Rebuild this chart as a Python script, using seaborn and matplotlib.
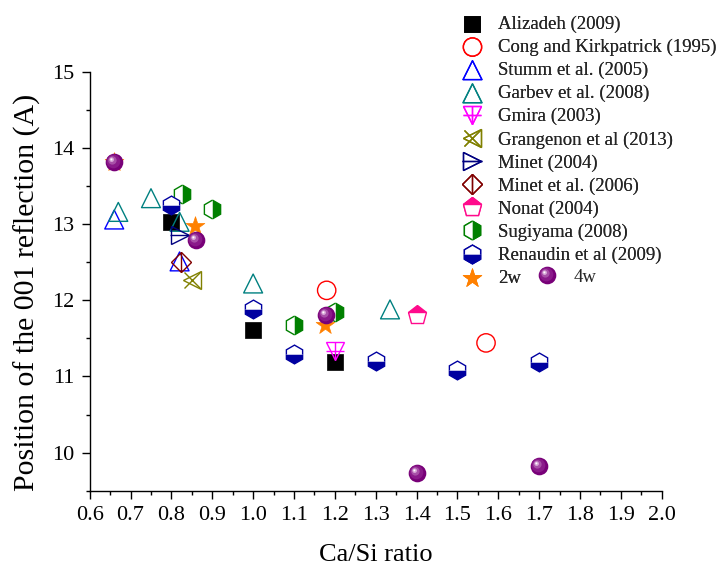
import numpy as np
import matplotlib
matplotlib.use("Agg")
import matplotlib.pyplot as plt
import seaborn as sns
from matplotlib.path import Path
from matplotlib.markers import MarkerStyle
from matplotlib.ticker import MultipleLocator, FormatStrFormatter
from matplotlib.legend_handler import HandlerTuple

sns.set_theme(style="ticks")
plt.rcParams["font.family"] = ["Liberation Serif", "DejaVu Serif"]

# ---- datos (Ca/Si, posicion 001 en A) ----
aliz_x = [0.80, 1.00, 1.20]
aliz_y = [13.03, 11.61, 11.19]
cong_x = [1.18, 1.57]
cong_y = [12.13, 11.44]
stumm_x = [0.66, 0.82]
stumm_y = [13.06, 12.51]
garbev_x = [0.67, 0.75, 0.82, 1.00, 1.335]
garbev_y = [13.16, 13.34, 13.03, 12.22, 11.88]
gmira_x = [1.20]
gmira_y = [11.34]
grang_x = [0.85]
grang_y = [12.26]
minet_x = [0.82]
minet_y = [12.85]
minet06_x = [0.823]
minet06_y = [12.50]
nonat_x = [1.40]
nonat_y = [11.80]
sugi_x = [0.825, 0.90, 1.10, 1.20]
sugi_y = [13.40, 13.20, 11.67, 11.85]
renau_x = [0.80, 1.00, 1.10, 1.30, 1.50, 1.70]
renau_y = [13.25, 11.88, 11.30, 11.20, 11.08, 11.19]
w2_x = [0.66, 0.858, 1.176]
w2_y = [13.82, 12.97, 11.67]
w4_x = [0.66, 0.859, 1.178, 1.40, 1.70]
w4_y = [13.82, 12.79, 11.81, 9.73, 9.82]

labels = ["Alizadeh (2009)", "Cong and Kirkpatrick (1995)", "Stumm et al. (2005)",
          "Garbev et al. (2008)", "Gmira (2003)", "Grangenon et al (2013)",
          "Minet (2004)", "Minet et al. (2006)", "Nonat (2004)", "Sugiyama (2008)",
          "Renaudin et al (2009)", "2w", "4w"]

fig = plt.figure(figsize=(7.17, 5.67), dpi=100)
ax = fig.add_axes([0.1251, 0.1346, 0.7978, 0.7389])

lw = 1.0
h = []

# Alizadeh - cuadrado negro
sns.scatterplot(x=aliz_x, y=aliz_y, marker="s", s=121, color="black",
                edgecolor="black", linewidth=0.5, ax=ax, zorder=3)
h.append(ax.collections[-1])

# Cong - circulo rojo vacio
sns.scatterplot(x=cong_x, y=cong_y, marker="o", s=174, color="red",
                facecolor="none", edgecolor="red", linewidth=lw, ax=ax, zorder=4)
h.append(ax.collections[-1])

# Stumm - triangulo azul
sns.scatterplot(x=stumm_x, y=stumm_y, marker="^", s=185, color="#0000ff",
                facecolor="none", edgecolor="#0000ff", linewidth=lw, ax=ax, zorder=5)
h.append(ax.collections[-1])

# Garbev - triangulo verde azulado
sns.scatterplot(x=garbev_x, y=garbev_y, marker="^", s=185, color="#008080",
                facecolor="none", edgecolor="#008080", linewidth=lw, ax=ax, zorder=6)
h.append(ax.collections[-1])

# Gmira - triangulo invertido con cruz
a, = ax.plot(gmira_x, gmira_y, ls="none", marker="v", ms=13.5, mfc="none",
             mec="#ff00ff", mew=lw, zorder=7)
b, = ax.plot(gmira_x, gmira_y, ls="none", marker="+", ms=13.5,
             mec="#ff00ff", mew=lw, zorder=7)
h.append((a, b))

# Grangenon - triangulo con x
a, = ax.plot(grang_x, grang_y, ls="none", marker="<", ms=13.5, mfc="none",
             mec="#808000", mew=lw, zorder=8)
b, = ax.plot(grang_x, grang_y, ls="none", marker="x", ms=11, mec="#808000",
             mew=lw, zorder=8)
h.append((a, b))

# Minet 2004 - triangulo a la derecha con linea
a, = ax.plot(minet_x, minet_y, ls="none", marker=">", ms=13.5, mfc="none",
             mec="#000080", mew=lw, zorder=9)
b, = ax.plot(minet_x, minet_y, ls="none", marker="_", ms=15, mec="#000080",
             mew=lw, zorder=9)
h.append((a, b))

# Minet 2006 - rombo con linea vertical
a, = ax.plot(minet06_x, minet06_y, ls="none", marker="D", ms=10.5, mfc="none",
             mec="#800000", mew=lw, zorder=10)
b, = ax.plot(minet06_x, minet06_y, ls="none", marker="|", ms=15, mec="#800000",
             mew=lw, zorder=10)
h.append((a, b))

# Nonat - pentagono medio lleno
a, = ax.plot(nonat_x, nonat_y, ls="none", marker="p", ms=14, fillstyle="top",
             mfc="#ff0a8c", mfcalt="white", mec="#ff0a8c", mew=lw, zorder=11)
h.append(a)

# Sugiyama - hexagono medio lleno (derecha)
a, = ax.plot(sugi_x, sugi_y, ls="none", marker="h", ms=13.5, fillstyle="right",
             mfc="#008000", mfcalt="white", mec="#008000", mew=lw, zorder=12)
h.append(a)

# Renaudin - hexagono medio lleno (abajo)
a, = ax.plot(renau_x, renau_y, ls="none", marker="h", ms=13.5, fillstyle="bottom",
             mfc="#0000a0", mfcalt="white", mec="#0000a0", mew=lw, zorder=13)
h.append(a)

# 2w - estrella naranja
sns.scatterplot(x=w2_x, y=w2_y, marker="*", s=200, color="#ff8000",
                edgecolor="#ff8000", linewidth=0.5, ax=ax, zorder=14)
h.append(ax.collections[-1])

# 4w - esferas moradas (capas con brillo)
D = 12.7
capas = [(0.0, 0.0, 1.0, "#780078"),
         (-0.12, 0.12, 0.78, "#8a1a8a"),
         (-0.24, 0.24, 0.48, "#a850a8"),
         (-0.32, 0.32, 0.26, "#d8a8d8"),
         (-0.35, 0.35, 0.11, "#ffffff")]
esfera = []
for cx, cy, r, c in capas:
    p = Path.circle((cx, cy), r)
    escala = np.max(np.abs(p.vertices))
    a, = ax.plot(w4_x, w4_y, ls="none", marker=MarkerStyle(p), ms=D * escala,
                 mfc=c, mec="none", mew=0, zorder=15)
    esfera.append(a)

ax.set_xlim(0.6, 2.0)
ax.set_ylim(9.5, 15)
ax.xaxis.set_major_locator(MultipleLocator(0.1))
ax.xaxis.set_minor_locator(MultipleLocator(0.05))
ax.xaxis.set_major_formatter(FormatStrFormatter("%.1f"))
ax.yaxis.set_major_locator(MultipleLocator(1))
ax.yaxis.set_minor_locator(MultipleLocator(0.5))
ax.tick_params(which="major", direction="out", length=5.8, width=1, labelsize=16,
               color="black", labelcolor="black")
ax.tick_params(which="minor", direction="out", length=3.2, width=1, color="black")
ax.tick_params(axis="x", which="major", pad=5.5)
ax.tick_params(axis="y", which="major", pad=5)
sns.despine(ax=ax)
for s in ["left", "bottom"]:
    ax.spines[s].set_color("black")
    ax.spines[s].set_linewidth(1.0)
ax.grid(False)

ax.set_xlabel("Ca/Si ratio", fontsize=19, color="black")
ax.set_ylabel("Position of the 001 reflection (A)", fontsize=21.5, color="black")
ax.xaxis.set_label_coords(0.5, -0.128)
ax.yaxis.set_label_coords(-0.085, 0.473)

top = 0.9725
leg1 = fig.legend(h, labels[:12], loc="upper left", bbox_to_anchor=(0.6459, top),
                  frameon=False, fontsize=13.5, handlelength=1.0, handletextpad=0.875,
                  labelspacing=0.31, borderpad=0, borderaxespad=0,
                  handler_map={tuple: HandlerTuple(ndivide=1)})
leg2 = fig.legend([tuple(esfera)], labels[12:], loc="upper left",
                  bbox_to_anchor=(0.7505, top - 11 * 23 / 567), frameon=False,
                  fontsize=13.5, handlelength=1.0, handletextpad=0.875,
                  borderpad=0, borderaxespad=0,
                  handler_map={tuple: HandlerTuple(ndivide=1)})
fig.add_artist(leg1)

fig.savefig("out.png", dpi=100, facecolor="white")
